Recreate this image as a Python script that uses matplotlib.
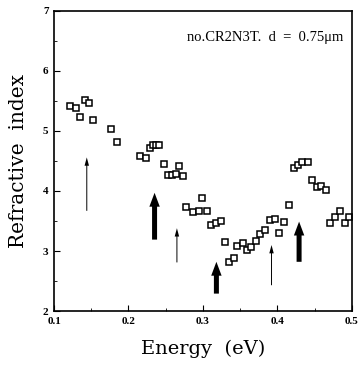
import matplotlib
matplotlib.use('Agg')
import matplotlib.pyplot as plt
from matplotlib.ticker import MultipleLocator

# measured points (energy in eV, refractive index)
energy = [0.122, 0.129, 0.135, 0.142, 0.147, 0.153, 0.177, 0.185, 0.215, 0.223,
          0.229, 0.233, 0.237, 0.241, 0.248, 0.253, 0.259, 0.264, 0.268, 0.273,
          0.277, 0.286, 0.294, 0.299, 0.305, 0.311, 0.317, 0.324, 0.330, 0.335,
          0.341, 0.346, 0.354, 0.359, 0.365, 0.371, 0.377, 0.383, 0.390, 0.397,
          0.402, 0.409, 0.416, 0.422, 0.428, 0.433, 0.441, 0.447, 0.453, 0.458,
          0.465, 0.470, 0.477, 0.484, 0.491, 0.496]
index = [5.42, 5.38, 5.23, 5.52, 5.47, 5.18, 5.03, 4.81, 4.58, 4.55,
         4.72, 4.76, 4.77, 4.77, 4.45, 4.27, 4.27, 4.28, 4.42, 4.25,
         3.74, 3.65, 3.67, 3.88, 3.67, 3.43, 3.46, 3.50, 3.15, 2.81,
         2.89, 3.08, 3.13, 3.02, 3.06, 3.16, 3.28, 3.35, 3.52, 3.54,
         3.30, 3.49, 3.77, 4.39, 4.43, 4.49, 4.48, 4.18, 4.07, 4.08,
         4.01, 3.47, 3.57, 3.67, 3.47, 3.56]

# arrows: position, tail, head, thick or thin
arrow_x = [0.144, 0.235, 0.265, 0.318, 0.392, 0.429]
arrow_tail = [3.67, 3.19, 2.81, 2.29, 2.43, 2.82]
arrow_head = [4.56, 3.97, 3.38, 2.82, 3.10, 3.49]
arrow_thick = [False, True, False, True, False, True]

fig = plt.figure(figsize=(3.61, 3.71), dpi=100)
ax = fig.add_axes([0.1496, 0.1617, 0.8254, 0.8087])

ax.plot(energy, index, 's', mfc='white', mec='black', mew=1.1, ms=4.8,
        linestyle='none')

for x, t, h, thick in zip(arrow_x, arrow_tail, arrow_head, arrow_thick):
    if thick:
        props = dict(width=3.6, headwidth=7.5, headlength=10, color='black', lw=0)
    else:
        props = dict(width=0.7, headwidth=3.2, headlength=6, color='black', lw=0)
    ax.annotate('', xy=(x, h), xytext=(x, t), arrowprops=props)

ax.text(0.488, 6.55, 'no.CR2N3T.  d  =  0.75\u03bcm', ha='right', va='center',
        fontsize=10.5, family='Liberation Serif')

ax.set_xlim(0.1, 0.5)
ax.set_ylim(2, 7)
ax.xaxis.set_major_locator(MultipleLocator(0.1))
ax.yaxis.set_major_locator(MultipleLocator(1))
ax.xaxis.set_minor_locator(MultipleLocator(0.05))
ax.yaxis.set_minor_locator(MultipleLocator(0.5))
ax.tick_params(which='both', direction='in', labelsize=8, pad=4)
ax.tick_params(which='major', length=4)
ax.tick_params(which='minor', length=2)
for lab in ax.get_xticklabels() + ax.get_yticklabels():
    lab.set_family('Liberation Serif')
    lab.set_fontweight('bold')
for s in ax.spines.values():
    s.set_linewidth(1.2)

ax.set_xlabel('Energy  (eV)', family='DejaVu Serif', fontsize=14, labelpad=10)
ax.set_ylabel('Refractive  index', family='DejaVu Serif', fontsize=14.5, labelpad=11)

fig.savefig('out.png', dpi=100)
